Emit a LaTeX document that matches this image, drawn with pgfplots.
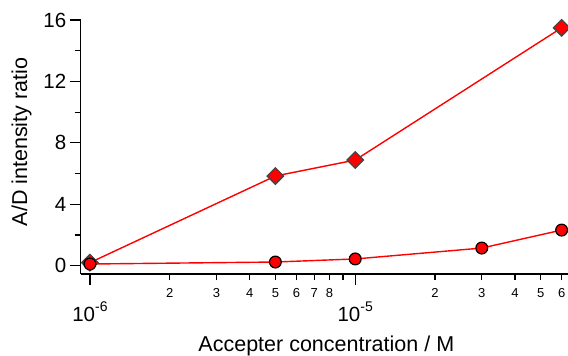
\documentclass[border=0pt]{standalone}
\usepackage{fontspec}
\setmainfont{Liberation Sans}
\usepackage{pgfplots}
\pgfplotsset{compat=1.18}
\definecolor{mkgray}{HTML}{454545}
\newcommand{\bigdec}[1]{{\fontsize{20.5}{22}\selectfont 10\raisebox{10pt}{\fontsize{14}{14}\selectfont #1}}}
\newcommand{\sm}[1]{{\fontsize{13}{13}\selectfont #1}}
\begin{document}
\begin{tikzpicture}
\begin{axis}[
  name=ax,
  scale only axis, width=487.3pt, height=254pt,
  xmode=log,
  xmin=9.226e-7, xmax=6.34e-5,
  ymin=-0.54, ymax=16,
  axis lines*=left,
  axis line style={line width=1.2pt, black},
  tick align=outside,
  /pgf/number format/assume math mode=true,
  ytick={0,4,8,12,16},
  minor ytick={2,6,10,14},
  major tick length=11pt, minor tick length=6pt,
  every tick/.style={black, line width=1.2pt},
  yticklabel style={font=\fontsize{20.5}{22}\selectfont, xshift=0pt},
  xtick={1e-6,1e-5},
  xticklabels={\bigdec{-6},\bigdec{-5}},
  xticklabel style={yshift=-13pt},
  minor xtick={2e-6,3e-6,4e-6,5e-6,6e-6,7e-6,8e-6,9e-6,2e-5,3e-5,4e-5,5e-5,6e-5},
  extra x ticks={2e-6,3e-6,4e-6,5e-6,6e-6,7e-6,8e-6,2e-5,3e-5,4e-5,5e-5,6e-5},
  extra x tick labels={\sm{2},\sm{3},\sm{4},\sm{5},\sm{6},\sm{7},\sm{8},\sm{2},\sm{3},\sm{4},\sm{5},\sm{6}},
  extra x tick style={major tick length=0pt, xticklabel style={yshift=2pt}},
  xlabel={Accepter concentration / M},
  xlabel style={font=\fontsize{21.5}{24}\selectfont, at={(axis description cs:0.5,0)}, anchor=base, yshift=-77pt, xshift=2pt},
  ylabel={A/D intensity ratio},
  ylabel style={font=\fontsize{21.5}{24}\selectfont, at={(axis description cs:0,0.52)}, anchor=center, yshift=59pt},
  clip=false,
]
\addplot[red, line width=1.4pt, mark=square*, mark size=5.8pt,
  mark options={rotate=45, fill=red, draw=mkgray, line width=1.3pt, solid}]
  coordinates {(1e-6,0.2) (5e-6,5.84) (1e-5,6.88) (6e-5,15.49)};
\addplot[red, line width=1.4pt, mark=*, mark size=5.9pt,
  mark options={fill=red, draw=black, line width=1.2pt, solid}]
  coordinates {(1e-6,0.11) (5e-6,0.24) (1e-5,0.44) (3e-5,1.15) (6e-5,2.32)};
\end{axis}
\pgfresetboundingbox
\path[use as bounding box] ([shift={(-80.7pt,-82pt)}]ax.south west) rectangle ([shift={(487.3pt,274pt)}]ax.south west);
\end{tikzpicture}
\end{document}
